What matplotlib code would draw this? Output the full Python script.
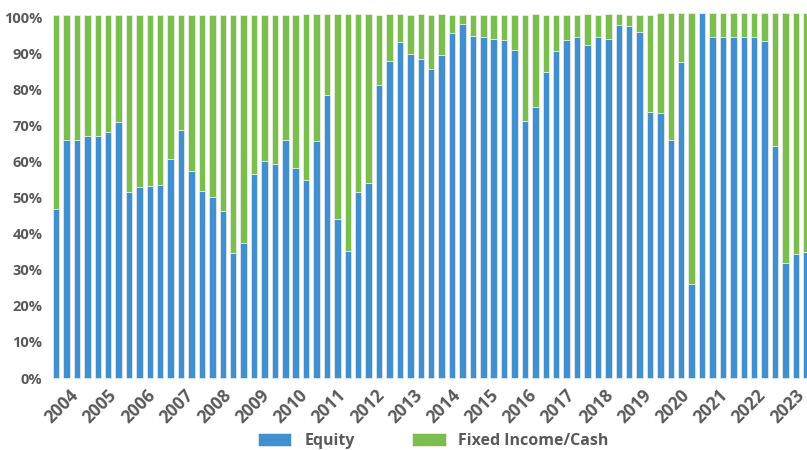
import numpy as np
import matplotlib
matplotlib.use("Agg")
import matplotlib.pyplot as plt
from matplotlib.ticker import FuncFormatter

plt.rcParams['font.family'] = ['Open Sans', 'DejaVu Sans']

# quarterly allocation, % of portfolio
equity = [46.9, 66.0, 66.0, 67.1, 67.1, 68.2, 71.0, 51.6, 53.0, 53.1,
          53.6, 60.8, 68.7, 57.4, 51.9, 50.2, 46.4, 34.7, 37.5, 56.6,
          60.1, 59.4, 66.0, 58.2, 54.9, 65.6, 78.5, 44.1, 35.3, 51.5,
          53.9, 81.1, 87.7, 93.0, 89.8, 88.3, 85.5, 89.4, 95.7, 98.0,
          94.9, 94.5, 94.0, 93.7, 91.0, 71.1, 75.0, 84.8, 90.5, 93.6,
          94.4, 92.2, 94.4, 94.0, 97.9, 97.6, 96.0, 73.7, 73.3, 66.0,
          87.6, 26.0, 101.2, 94.6, 94.6, 94.6, 94.6, 94.6, 93.4, 64.3,
          31.9, 34.4, 35.0]
fixed_income = [53.6, 34.5, 34.5, 33.4, 33.4, 32.3, 29.5, 48.9, 47.5, 47.4,
                46.9, 39.7, 31.8, 43.1, 48.6, 50.3, 54.1, 65.8, 63.0, 43.9,
                40.4, 41.1, 34.5, 42.3, 45.9, 35.2, 22.3, 56.7, 65.5, 49.3,
                46.9, 19.4, 13.1, 7.8, 10.7, 12.5, 15.0, 11.4, 4.8, 2.5,
                5.6, 6.0, 6.5, 6.8, 9.5, 29.4, 25.8, 15.7, 10.0, 6.9,
                6.1, 8.6, 6.1, 6.8, 2.9, 2.9, 4.5, 26.8, 27.8, 35.1,
                13.5, 75.1, 0.0, 6.5, 6.5, 6.5, 6.5, 6.5, 7.7, 36.8,
                69.2, 66.7, 66.1]
years = [str(y) for y in range(2004, 2024)]

blue = '#418fce'
green = '#7bbd4f'
grey = '#595959'

fig = plt.figure(figsize=(8.07, 4.5), dpi=100)
ax = fig.add_axes([0.063, 0.16, 0.94, 0.802])

x = np.arange(len(equity))
ax.bar(x, equity, width=0.62, color=blue, edgecolor='#e6eef7', linewidth=0.5,
       label='Equity', clip_on=False)
ax.bar(x, fixed_income, width=0.62, bottom=equity, color=green, edgecolor='#eef5e8',
       linewidth=0.5, label='Fixed Income/Cash', clip_on=False)

ax.set_xlim(-0.5, len(equity) - 0.7)
ax.set_ylim(0, 100)
ax.set_yticks(np.arange(0, 101, 10))
ax.yaxis.set_major_formatter(FuncFormatter(lambda v, p: f'{v:.0f}%'))
ax.set_xticks(np.linspace(1.3, len(equity) - 2.1, len(years)))
ax.set_xticklabels(years, rotation=45, ha='right', rotation_mode='anchor')

for s in ax.spines.values():
    s.set_visible(False)
ax.tick_params(length=0, colors=grey)
ax.tick_params(axis='y', labelsize=10.5, pad=6)
ax.tick_params(axis='x', labelsize=12.5, pad=6)
for lbl in ax.get_xticklabels() + ax.get_yticklabels():
    lbl.set_fontweight('bold')

leg = fig.legend(loc='lower center', bbox_to_anchor=(0.537, -0.03), ncol=2,
                 frameon=False, fontsize=11.5, handlelength=2.1, handleheight=0.8,
                 columnspacing=3.6, handletextpad=0.8)
for t in leg.get_texts():
    t.set_color(grey)
    t.set_fontweight('bold')

fig.savefig('out.png', dpi=100)
